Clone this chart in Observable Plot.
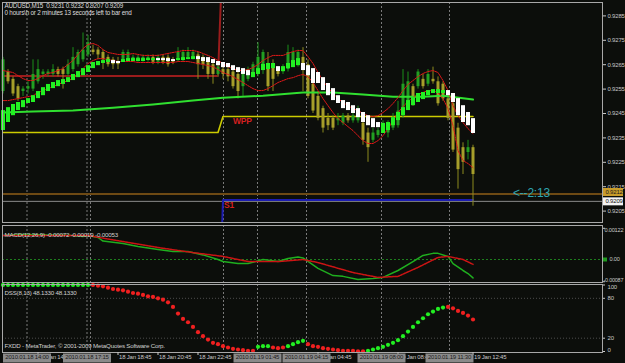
<!DOCTYPE html>
<html><head><meta charset="utf-8">
<script src="https://cdn.jsdelivr.net/npm/d3@7"></script>
<script src="https://cdn.jsdelivr.net/npm/@observablehq/plot@0.6"></script>
<style>
html,body{margin:0;padding:0;background:#0c0e0b;}
#chart{position:relative;width:625px;height:363px;overflow:hidden;background:#0c0e0b;}
#chart svg{display:block;}
</style></head><body><div id="chart"></div>
<script>
// ---------- data ----------
const symbol = "AUDUSD,M15";
const quote = [0.9231, 0.9232, 0.9207, 0.9209];
const timerText = "0 hours\\h or 2 minutes 13 seconds left to bar end";
const countdown = "<--2:13";

const candleOpen = [0.9254,0.9262,0.9259,0.9256,0.9254,0.9255,0.9255,0.9258,0.9261,0.9261,
0.9261,0.9263,0.9263,0.9261,0.9263,0.9265,0.9267,0.9269,0.9271,0.9271,
0.9270,0.9268,0.9267,0.9266,0.9267,0.9267,0.9267,0.9267,0.9267,0.9267,
0.9268,0.9266,0.9268,0.9268,0.9267,0.9267,0.9267,0.9268,0.9268,0.9269,
0.9268,0.9266,0.9265,0.9261,0.9263,0.9263,0.9262,0.9261,0.9256,0.9259,
0.9261,0.9261,0.9263,0.9265,0.9265,0.9263,0.9262,0.9263,0.9265,0.9265,
0.9268,0.9265,0.9257,0.9252,0.9247,0.9243,0.9243,0.9242,0.9241,0.9244,
0.9242,0.9242,0.9241,0.9237,0.9234,0.9236,0.9239,0.9237,0.9239,0.9240,
0.9244,0.9249,0.9256,0.9256,0.9259,0.9257,0.9259,0.9258,0.9257,0.9251,
0.9249,0.9239,0.9231,0.9229,0.9231];
const candleHigh = [0.9268,0.9263,0.9260,0.9257,0.9256,0.9258,0.9267,0.9267,0.9263,0.9263,
0.9265,0.9264,0.9264,0.9267,0.9272,0.9271,0.9278,0.9277,0.9273,0.9272,
0.9271,0.9269,0.9268,0.9268,0.9271,0.9271,0.9269,0.9269,0.9269,0.9269,
0.9269,0.9269,0.9269,0.9269,0.9268,0.9272,0.9271,0.9272,0.9271,0.9270,
0.9269,0.9267,0.9266,0.9265,0.9264,0.9264,0.9263,0.9262,0.9263,0.9264,
0.9266,0.9274,0.9271,0.9270,0.9267,0.9264,0.9265,0.9273,0.9272,0.9271,
0.9272,0.9267,0.9258,0.9254,0.9248,0.9245,0.9244,0.9245,0.9245,0.9245,
0.9245,0.9248,0.9242,0.9239,0.9239,0.9239,0.9242,0.9242,0.9245,0.9250,
0.9263,0.9262,0.9257,0.9263,0.9261,0.9263,0.9264,0.9260,0.9258,0.9253,
0.9250,0.9241,0.9233,0.9234,0.9232];
const candleLow = [0.9253,0.9257,0.9252,0.9250,0.9252,0.9253,0.9254,0.9257,0.9259,0.9260,
0.9260,0.9260,0.9255,0.9260,0.9262,0.9264,0.9266,0.9268,0.9269,0.9267,
0.9263,0.9264,0.9263,0.9263,0.9266,0.9266,0.9266,0.9266,0.9266,0.9266,
0.9265,0.9265,0.9265,0.9264,0.9265,0.9266,0.9266,0.9267,0.9267,0.9259,
0.9263,0.9259,0.9257,0.9260,0.9259,0.9258,0.9255,0.9251,0.9252,0.9258,
0.9260,0.9260,0.9261,0.9254,0.9254,0.9260,0.9261,0.9262,0.9264,0.9264,
0.9254,0.9251,0.9245,0.9242,0.9237,0.9238,0.9238,0.9240,0.9240,0.9241,
0.9241,0.9241,0.9232,0.9225,0.9233,0.9235,0.9238,0.9235,0.9238,0.9239,
0.9243,0.9248,0.9248,0.9255,0.9255,0.9256,0.9257,0.9248,0.9250,0.9242,
0.9229,0.9214,0.9220,0.9226,0.9207];
const candleClose = [0.9267,0.9258,0.9253,0.9251,0.9255,0.9256,0.9261,0.9263,0.9262,0.9262,
0.9263,0.9261,0.9261,0.9265,0.9268,0.9270,0.9271,0.9274,0.9270,0.9269,
0.9267,0.9265,0.9265,0.9265,0.9270,0.9270,0.9268,0.9268,0.9268,0.9268,
0.9266,0.9268,0.9266,0.9265,0.9266,0.9270,0.9270,0.9270,0.9270,0.9265,
0.9265,0.9261,0.9261,0.9264,0.9261,0.9260,0.9256,0.9254,0.9262,0.9263,
0.9265,0.9268,0.9270,0.9256,0.9259,0.9261,0.9264,0.9270,0.9270,0.9270,
0.9263,0.9252,0.9246,0.9243,0.9239,0.9240,0.9239,0.9243,0.9244,0.9242,
0.9244,0.9244,0.9234,0.9231,0.9237,0.9238,0.9241,0.9240,0.9243,0.9246,
0.9257,0.9258,0.9249,0.9262,0.9256,0.9261,0.9258,0.9249,0.9251,0.9243,
0.9230,0.9222,0.9225,0.9231,0.9220];

const haOpen = [0.92380,0.92413,0.92441,0.92462,0.92474,0.92491,0.92495,0.92511,0.92523,0.92540,
0.92552,0.92560,0.92569,0.92577,0.92585,0.92597,0.92605,0.92618,0.92634,0.92646,
0.92655,0.92659,0.92667,0.92663,0.92659,0.92663,0.92663,0.92663,0.92663,0.92667,
0.92667,0.92675,0.92675,0.92675,0.92671,0.92667,0.92667,0.92671,0.92671,0.92683,
0.92679,0.92679,0.92671,0.92663,0.92659,0.92655,0.92646,0.92638,0.92634,0.92626,
0.92597,0.92610,0.92626,0.92630,0.92634,0.92642,0.92622,0.92634,0.92638,0.92646,
0.92655,0.92646,0.92634,0.92618,0.92597,0.92573,0.92552,0.92523,0.92503,0.92495,
0.92482,0.92470,0.92454,0.92441,0.92429,0.92413,0.92368,0.92380,0.92400,0.92421,
0.92441,0.92462,0.92482,0.92495,0.92507,0.92523,0.92532,0.92532,0.92532,0.92544,
0.92532,0.92511,0.92482,0.92454,0.92429];
const haClose = [0.92462,0.92474,0.92487,0.92495,0.92503,0.92511,0.92523,0.92540,0.92556,0.92569,
0.92577,0.92585,0.92589,0.92597,0.92610,0.92622,0.92634,0.92646,0.92659,0.92663,
0.92667,0.92671,0.92655,0.92655,0.92671,0.92675,0.92675,0.92675,0.92675,0.92675,
0.92675,0.92667,0.92667,0.92663,0.92663,0.92675,0.92679,0.92679,0.92683,0.92671,
0.92663,0.92659,0.92655,0.92646,0.92638,0.92638,0.92626,0.92618,0.92610,0.92605,
0.92618,0.92634,0.92651,0.92655,0.92655,0.92622,0.92642,0.92655,0.92667,0.92675,
0.92626,0.92605,0.92573,0.92573,0.92544,0.92523,0.92503,0.92491,0.92470,0.92462,
0.92450,0.92433,0.92413,0.92400,0.92392,0.92392,0.92409,0.92413,0.92433,0.92454,
0.92474,0.92503,0.92515,0.92532,0.92536,0.92544,0.92548,0.92548,0.92544,0.92523,
0.92495,0.92441,0.92413,0.92400,0.92368];

const bandUpper = [0.92626,0.92622,0.92618,0.92605,0.92593,0.92585,0.92585,0.92593,0.92605,0.92614,
0.92618,0.92626,0.92634,0.92651,0.92667,0.92692,0.92716,0.92733,0.92737,0.92729,
0.92712,0.92700,0.92696,0.92692,0.92692,0.92692,0.92696,0.92692,0.92688,0.92688,
0.92688,0.92688,0.92692,0.92696,0.92700,0.92704,0.92708,0.92708,0.92708,0.92704,
0.92696,0.92688,0.92679,0.92667,0.92655,0.92642,0.92634,0.92626,0.92626,0.92630,
0.92638,0.92651,0.92667,0.92679,0.92688,0.92688,0.92688,0.92696,0.92704,0.92708,
0.92708,0.92683,0.92655,0.92618,0.92585,0.92556,0.92532,0.92511,0.92495,0.92482,
0.92470,0.92462,0.92450,0.92441,0.92437,0.92441,0.92454,0.92470,0.92491,0.92515,
0.92544,0.92569,0.92585,0.92601,0.92614,0.92622,0.92626,0.92618,0.92585,0.92544,
0.92482,0.92441,0.92413,0.92388,0.92368];
const bandLower = [0.92503,0.92503,0.92507,0.92511,0.92515,0.92519,0.92523,0.92536,0.92544,0.92552,
0.92560,0.92569,0.92577,0.92585,0.92593,0.92614,0.92634,0.92655,0.92667,0.92675,
0.92675,0.92671,0.92667,0.92663,0.92663,0.92663,0.92663,0.92659,0.92659,0.92659,
0.92659,0.92659,0.92659,0.92659,0.92659,0.92663,0.92663,0.92663,0.92659,0.92655,
0.92651,0.92646,0.92642,0.92630,0.92618,0.92610,0.92601,0.92589,0.92577,0.92564,
0.92552,0.92544,0.92544,0.92552,0.92564,0.92577,0.92585,0.92593,0.92597,0.92605,
0.92610,0.92601,0.92577,0.92544,0.92511,0.92482,0.92454,0.92429,0.92413,0.92396,
0.92380,0.92359,0.92339,0.92327,0.92327,0.92339,0.92359,0.92388,0.92421,0.92454,
0.92478,0.92499,0.92515,0.92528,0.92536,0.92544,0.92544,0.92536,0.92511,0.92470,
0.92400,0.92298,0.92257,0.92245,0.92228];

const maBars = [0,6,14,22,30,38,44,52,60,66,72,78,84,88,94];
const maValues = [0.92454,0.92458,0.92462,0.92474,0.92487,0.92503,0.92515,0.92523,0.92536,0.92536,0.92528,0.92519,0.92519,0.92523,0.92507];

// daily levels: previous day (bars 0-43) and current day (bars 44-94)
const dayBars = [[0, 43], [44, 94]];
const levelHigh = [0.92604, 0.9315];
const levelWPP = [0.92372, 0.92438];
const levelS1 = [0.9150, 0.92095];
const askLevel = 0.9212;
const bidLevel = 0.9209;

const priceTicks = [0.9205,0.9215,0.9225,0.9235,0.9245,0.9255,0.9265,0.9275,0.9285];

const macdBars = [0,4,9,14,16,17,19,20,24,27,31,34,37,40,43,44,47,49,52,55,57,59,60,63,66,68,71,74,76,79,82,84,86,87,89,90,92,93,94];
const macdValues = [0.00094,0.00098,0.00096,0.00094,0.00090,0.00094,0.00086,0.00072,0.00063,0.00051,
0.00039,0.00031,0.00031,0.00018,0.00000,-0.00008,-0.00016,-0.00016,0.00000,-0.00008,
0.00004,0.00010,0.00006,-0.00035,-0.00063,-0.00066,-0.00078,-0.00074,-0.00070,-0.00043,
-0.00008,0.00016,0.00024,0.00024,0.00012,-0.00016,-0.00043,-0.00055,-0.00072];
const signalBars = [0,17,24,31,38,44,49,55,60,63,70,75,79,83,87,89,92,94];
const signalValues = [0.00094,0.00094,0.00070,0.00047,0.00027,0.00012,-0.00008,-0.00008,0.00000,-0.00012,-0.00051,-0.00070,-0.00066,-0.00031,0.00008,0.00012,0.00000,-0.00019];
const macdScaleValues = [0.00122, 0, -0.00087];
const macdScaleLabels = ["0.00122", "0.00", "-0.00087"];

const dssValues = [100,100,100,100,100,100,100,100,100,100,100,100,100,100,100,100,100,100,
100,99,98,96,94,93,92,90,88,87,85,83,82,80,78,74,67,57,49,44,37,29,23,18,13,11,8,6,4,3,2,1,1,
7,8,8, 6,5,6, 8,11,14,16, 11,8,7,5,4,3,2,1,1,1,0.3,0.3,
1,3,5,7,10,13,17,23,30,37,44,50,56,60,64,66, 67,65,61,58,54,48.133];
const dssRuns = [[18,"up"],[33,"down"],[3,"up"],[3,"down"],[4,"up"],[12,"down"],[16,"up"],[6,"down"]];
const dssLevels = [80, 20];
const dssScale = [100, 80, 20, 0];

// time labels that remain (at least partly) visible beside the marker boxes
const timeLabelBars = [7,23,31,39,63,79,94];
const timeLabels = ["18 Jan 14:45","18 Jan 18:45","18 Jan 20:45","18 Jan 22:45","19 Jan 04:45","19 Jan 08:45","19 Jan 12:45"];
const vLineBars = [4.8, 16.8, 17.5, 44.1, 50.9, 60.7, 75.7, 89.3];
const markerBars = [4.8, 16.8, 50.9, 60.7, 75.7, 89.3];
const markerLabels = ["2010.01.18 14:00","2010.01.18 17:15","2010.01.19 01:45","2010.01.19 04:15","2010.01.19 08:00","2010.01.19 11:30"];
const copyright = "FXDD - MetaTrader, \u00a9 2001-2009 MetaQuotes Software Corp.";

// ---------- derived tables ----------
const f4 = d3.format(".4f");
const candles = candleOpen.map((o, i) => ({i, o, h: candleHigh[i], l: candleLow[i], c: candleClose[i], up: candleClose[i] >= o}));
const ha = haOpen.map((o, i) => ({i, o, c: haClose[i], up: haClose[i] >= o}));
const bands = bandUpper.map((u, i) => ({i, u, l: bandLower[i]}));
const ma = maBars.map((i, k) => ({i, v: maValues[k]}));
const steps = lv => dayBars.flatMap(([a, b], k) => [{i: a, v: lv[k]}, {i: b, v: lv[k]}]);
const macd = macdBars.map((i, k) => ({i, v: macdValues[k]}));
const signal = signalBars.map((i, k) => ({i, v: signalValues[k]}));
const dssDir = dssRuns.flatMap(([n, d]) => Array(n).fill(d));
const dss = dssValues.map((v, i) => ({i, v, up: dssDir[i] === "up"}));
const lastM = macdValues[macdValues.length - 1], lastS = signalValues[signalValues.length - 1];
const macdTitle = `MACD(12,26,9) ${lastM.toFixed(5)} ${lastS.toFixed(5)} ${(lastM - lastS).toFixed(5)}`;
const lastD = dssValues[dssValues.length - 1];
const dssTitle = `DSS(8,13) ${lastD.toFixed(4)} ${lastD.toFixed(4)}`;
const header = `${symbol}  ${quote.map(f4).join(" ")}\n${timerText}`;
const lastBar = candles.length - 1;

// ---------- style ----------
const fg = "#c8c8c8";
const font = "'Liberation Sans', Arial, sans-serif";
const xDomain = [-0.1, 119.9];
const base = (h, mt, mb) => ({
  width: 625, height: h, marginTop: mt, marginBottom: mb, marginLeft: 2, marginRight: 23,
  style: {background: "#0c0e0b", color: fg, fontFamily: font, fontSize: "6px", letterSpacing: "-0.2px"},
  x: {domain: xDomain, axis: null},
  color: {type: "identity"}
});
const vRules = () => Plot.ruleX(vLineBars, {stroke: "#7a7a7a", strokeDasharray: "2,2"});
const frame = () => Plot.frame({stroke: "#a8a8a8"});

// ---------- main price panel ----------
const mainPlot = Plot.plot({
  ...base(224, 2, 2),
  y: {domain: [0.920033, 0.929049], axis: null},
  marks: [
    vRules(),
    Plot.ruleY([askLevel], {stroke: "#6e4a14", strokeWidth: 2}),
    Plot.ruleY([bidLevel], {stroke: "#8c8c8c"}),
    Plot.line(steps(levelHigh), {x: "i", y: "v", stroke: "#9a1c1c", strokeWidth: 2, clip: true}),
    Plot.line(steps(levelWPP), {x: "i", y: "v", stroke: "#cccc00", strokeWidth: 1.6, clip: true}),
    Plot.line(steps(levelS1), {x: "i", y: "v", stroke: "#1c1cb0", strokeWidth: 2, clip: true}),
    Plot.ruleX(candles, {x: "i", y1: "l", y2: "h", stroke: d => d.up ? "#1a8f1a" : "#8c8a1e"}),
    Plot.ruleX(candles, {x: "i", y1: "o", y2: "c", strokeWidth: 3, stroke: d => d.up ? "#22a022" : "#a69e2a"}),
    Plot.line(ma, {x: "i", y: "v", stroke: "#30e030", strokeWidth: 2}),
    Plot.line(bands, {x: "i", y: "u", stroke: "#e01818", strokeWidth: 1, strokeDasharray: "1.5,1"}),
    Plot.line(bands, {x: "i", y: "l", stroke: "#e01818", strokeWidth: 1, strokeDasharray: "1.5,1"}),
    Plot.ruleX(ha, {x: "i", y1: "o", y2: "c", strokeWidth: 4, stroke: d => d.up ? "#22f022" : "#ffffff"}),
    frame(),
    Plot.axisY({anchor: "right", ticks: priceTicks, tickFormat: f4, tickSize: 3, tickPadding: 2, fontSize: 6}),
    Plot.ruleY([askLevel], {insetLeft: 601, insetRight: -21, strokeWidth: 8, stroke: "#c99c2a", dy: -2}),
    Plot.text([askLevel], {y: d => d, text: f4, frameAnchor: "right", textAnchor: "start", dx: 3, dy: -2, fill: "#1a1a1a", fontSize: 6}),
    Plot.ruleY([bidLevel], {insetLeft: 601, insetRight: -21, strokeWidth: 8, stroke: "#f4f4f4"}),
    Plot.text([bidLevel], {y: d => d, text: f4, frameAnchor: "right", textAnchor: "start", dx: 3, fill: "#111", fontSize: 6}),
    Plot.text([header], {frameAnchor: "top-left", lineAnchor: "top", dx: 2, dy: 1, lineHeight: 1.1, fontSize: 6.3, fill: "#dcdcdc"}),
    Plot.text([{i: dayBars[1][0], v: levelWPP[1]}], {x: "i", y: "v", text: () => "WPP", textAnchor: "start", dx: 10, dy: 5, fill: "#d42020", fontSize: 8.5, fontWeight: "bold"}),
    Plot.text([{i: dayBars[1][0], v: levelS1[1]}], {x: "i", y: "v", text: () => "S1", textAnchor: "start", dx: 1, dy: 5, fill: "#d42020", fontSize: 8.5, fontWeight: "bold"}),
    Plot.text([{i: lastBar, v: askLevel}], {x: "i", y: "v", text: () => countdown, textAnchor: "start", dx: 40, dy: -1, fill: "#2fa6b2", fontSize: 12, fontFamily: "Arial, 'Liberation Sans', sans-serif"})
  ]
});

// ---------- MACD panel ----------
const macdPlot = Plot.plot({
  ...base(59, 1, 1),
  y: {domain: [-0.0009, 0.00133], axis: null},
  marks: [
    vRules(),
    Plot.ruleY([0], {stroke: "#1f7f1f", strokeDasharray: "2,2"}),
    Plot.line(macd, {x: "i", y: "v", stroke: "#1fae1f"}),
    Plot.line(signal, {x: "i", y: "v", stroke: "#cc1414", strokeDasharray: "2,1"}),
    frame(),
    Plot.ruleY(macdScaleValues, {insetLeft: 601, insetRight: -3, stroke: fg}),
    Plot.ruleY([0], {insetLeft: 601, insetRight: -5, strokeWidth: 4, stroke: "#1f9a1f"}),
    Plot.text([macdScaleLabels[0]], {y: () => macdScaleValues[0], frameAnchor: "right", textAnchor: "start", lineAnchor: "top", dx: 2, fontSize: 5.6}),
    Plot.text([macdScaleLabels[1]], {y: () => macdScaleValues[1], frameAnchor: "right", textAnchor: "start", dx: 7, fontSize: 5.6}),
    Plot.text([macdScaleLabels[2]], {y: () => macdScaleValues[2], frameAnchor: "right", textAnchor: "start", lineAnchor: "bottom", dx: 1, fontSize: 5.4}),
    Plot.text([macdTitle], {frameAnchor: "top-left", dx: 2, dy: 7, fontSize: 6.2, fill: "#d0d0d0"})
  ]
});

// ---------- DSS panel + time axis ----------
const dssPlot = Plot.plot({
  ...base(80, 1, 11),
  y: {domain: [-1.5, 100.75], axis: null},
  marks: [
    vRules(),
    Plot.ruleY(dssLevels, {stroke: "#4e4e4e", strokeDasharray: "1,2"}),
    Plot.dot(dss, {x: "i", y: "v", r: 2.1, fill: d => d.up ? "#22ee22" : "#f02020"}),
    frame(),
    Plot.ruleY(dssScale, {insetLeft: 601, insetRight: -3, stroke: fg}),
    Plot.text([dssScale[0]], {y: d => d, text: d => String(d), frameAnchor: "right", textAnchor: "start", lineAnchor: "top", dx: 5, fontSize: 6}),
    Plot.text(dssScale.slice(1, 3), {y: d => d, text: d => String(d), frameAnchor: "right", textAnchor: "start", dx: 5, fontSize: 6}),
    Plot.text([dssScale[3]], {y: d => d, text: d => String(d), frameAnchor: "right", textAnchor: "start", lineAnchor: "bottom", dx: 5, fontSize: 6}),
    Plot.text([dssTitle], {frameAnchor: "top-left", dx: 2, dy: 6, fontSize: 6.2, fill: "#d0d0d0"}),
    Plot.text([copyright], {frameAnchor: "bottom-left", dx: 2, dy: -5, fontSize: 6.2, fill: "#d0d0d0"}),
    Plot.ruleX(timeLabelBars, {insetTop: 68, insetBottom: -3, stroke: fg}),
    Plot.text(timeLabelBars.map((i, k) => ({i, t: timeLabels[k]})), {x: "i", text: "t", frameAnchor: "bottom", textAnchor: "start", dx: 1, dy: 6, fontSize: 6, fill: fg}),
    Plot.ruleX(markerBars, {insetTop: 69.5, insetBottom: -10.5, strokeWidth: 48, stroke: "#8a8a8a"}),
    Plot.text(markerBars.map((i, k) => ({i, t: markerLabels[k]})), {x: "i", text: "t", frameAnchor: "bottom", dy: 6, fontSize: 6, fill: "#1a1a1a"})
  ]
});

const root = document.getElementById("chart");
root.append(mainPlot, macdPlot, dssPlot);
</script></body></html>
